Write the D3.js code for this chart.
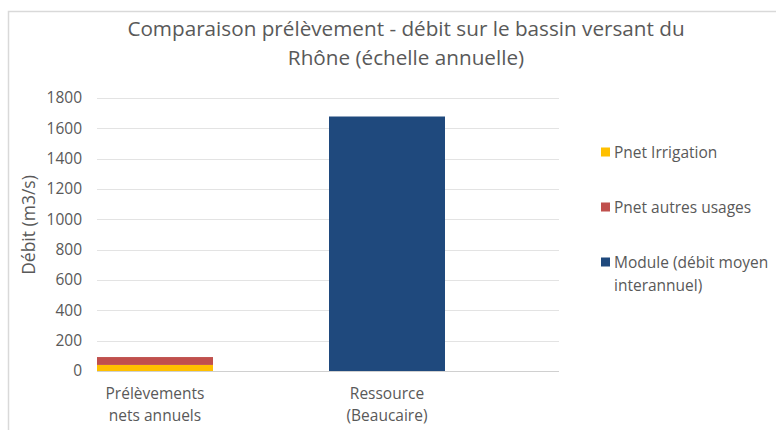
<!DOCTYPE html>
<html><head><meta charset="utf-8">
<script src="https://cdn.jsdelivr.net/npm/d3@7"></script>
<style>
html,body{margin:0;padding:0;background:#fff;}
svg{display:block;font-family:"Open Sans","Noto Sans",sans-serif;}
</style></head>
<body><svg id="c" width="776" height="430"></svg>
<script>
const categories = ["Prélèvements nets annuels", "Ressource (Beaucaire)"];
const categoryLines = [["Prélèvements", "nets annuels"], ["Ressource", "(Beaucaire)"]];
const seriesNames = ["Pnet Irrigation", "Pnet autres usages", "Module (débit moyen interannuel)"];
const legendLines = [["Pnet Irrigation"], ["Pnet autres usages"], ["Module (débit moyen", "interannuel)"]];
const irrigation = [40, 0];
const autresUsages = [52, 0];
const module = [0, 1678];
const yTicks = [0, 200, 400, 600, 800, 1000, 1200, 1400, 1600, 1800];
const colors = ["#FFC000", "#C0504D", "#1F497D"];
const titleLines = ["Comparaison prélèvement - débit sur le bassin versant du", "Rhône (échelle annuelle)"];

const svg = d3.select("#c");
const textCol = "#595959";

// frame (cut by the picture at right and bottom)
svg.append("rect").attr("x", 8.5).attr("y", 11.5).attr("width", 800).attr("height", 500)
  .attr("fill", "none").attr("stroke", "#d9d9d9").attr("stroke-width", 1.5);

const plot = {left: 97, right: 559, top: 98, bottom: 371};
const y = d3.scaleLinear().domain([0, 1800]).range([plot.bottom, plot.top]);
const x = d3.scaleBand().domain(categories).range([97, 445]).paddingInner(0.5).paddingOuter(0);

// gridlines
svg.append("g").selectAll("line").data(yTicks).join("line")
  .attr("x1", plot.left).attr("x2", plot.right)
  .attr("y1", d => Math.round(y(d)) + 0.5).attr("y2", d => Math.round(y(d)) + 0.5)
  .attr("stroke", d => d === 0 ? "#d0d0d0" : "#e3e3e3").attr("stroke-width", 1.2);

// y axis labels
const yAxis = d3.axisLeft(y).tickValues(yTicks).tickSize(0).tickPadding(0).tickFormat(d3.format("d"));
const ga = svg.append("g").attr("transform", `translate(82,0)`).call(yAxis);
ga.select(".domain").remove();
ga.selectAll("text").attr("fill", textCol).style("font-size", "15.5px")
  .style("font-family", '"Open Sans","Noto Sans",sans-serif');

// stacked data
const rows = categories.map((c, i) => ({cat: c, s0: irrigation[i], s1: autresUsages[i], s2: module[i]}));
const stack = d3.stack().keys(["s0", "s1", "s2"])(rows);
svg.append("g").selectAll("g").data(stack).join("g").attr("fill", (d, i) => colors[i])
  .selectAll("rect").data(d => d).join("rect")
  .attr("x", d => x(d.data.cat)).attr("width", x.bandwidth())
  .attr("y", d => y(d[1])).attr("height", d => y(d[0]) - y(d[1]));

// category labels
categories.forEach((c, i) => {
  const t = svg.append("text").attr("text-anchor", "middle").attr("fill", textCol).style("font-size", "15.5px");
  categoryLines[i].forEach((l, j) => {
    t.append("tspan").attr("x", x(c) + x.bandwidth() / 2).attr("y", 399 + j * 22).text(l);
  });
});

// y title
svg.append("text").attr("transform", "translate(35,225) rotate(-90)").attr("text-anchor", "middle")
  .attr("fill", textCol).style("font-size", "17.5px").text("Débit (m3/s)");

// title
titleLines.forEach((l, j) => {
  svg.append("text").attr("x", 406).attr("y", 36 + j * 29).attr("text-anchor", "middle")
    .attr("fill", textCol).style("font-size", "20.7px").text(l);
});

// legend
const legY = [152, 207, 262];
seriesNames.forEach((s, i) => {
  svg.append("rect").attr("x", 601).attr("y", legY[i] - 4.5).attr("width", 9).attr("height", 9).attr("fill", colors[i]);
  const t = svg.append("text").attr("fill", textCol).style("font-size", "15.5px");
  legendLines[i].forEach((l, j) => {
    t.append("tspan").attr("x", 614).attr("y", legY[i] + 6 + j * 23).text(l);
  });
});
</script></body></html>
